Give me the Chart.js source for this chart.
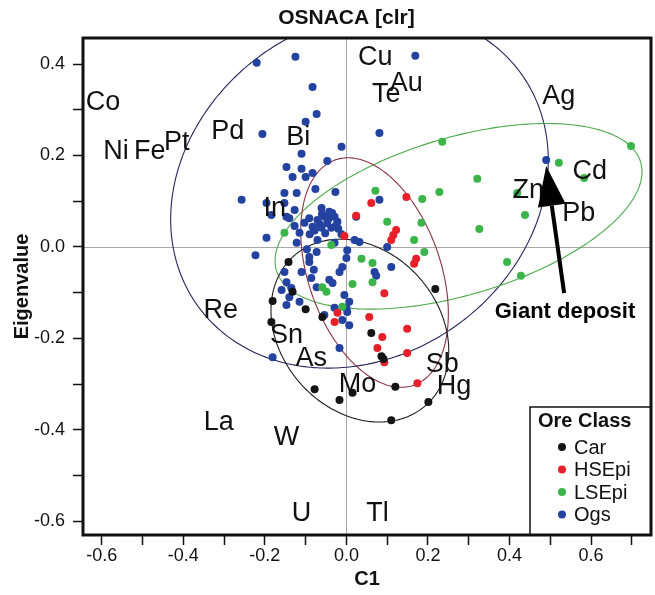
<!DOCTYPE html>
<html>
<head>
<meta charset="utf-8">
<script src="https://cdn.jsdelivr.net/npm/chart.js@4.4.1/dist/chart.umd.min.js"></script>
<style>
  html, body { margin: 0; padding: 0; background: #fff; }
</style>
</head>
<body>
<canvas id="chart" width="655" height="595"></canvas>
<script>
const classNames = ['Car', 'HSEpi', 'LSEpi', 'Ogs'];

const carX = [-0.142, -0.181, -0.184, -0.100, -0.059, -0.132, 0.061, 0.086, 0.091, 0.120, -0.017, 0.015, -0.078, 0.110, 0.201, 0.218];
const carY = [-0.033, -0.118, -0.164, -0.136, -0.153, -0.098, -0.188, -0.239, -0.245, -0.306, -0.335, -0.319, -0.311, -0.379, -0.339, -0.092];

const hsX = [0.061, 0.147, 0.122, 0.115, 0.110, -0.005, 0.171, 0.166, 0.024, 0.093, 0.056, -0.029, -0.022, 0.149, 0.088, 0.076, 0.149, 0.093, 0.174];
const hsY = [0.096, 0.109, 0.037, 0.026, 0.015, 0.024, -0.026, -0.037, 0.068, -0.101, -0.153, -0.164, -0.144, -0.179, -0.197, -0.221, -0.232, -0.252, -0.298];

const lsX = [0.235, 0.698, 0.521, 0.583, 0.321, 0.228, 0.186, 0.419, 0.438, 0.326, 0.184, 0.166, 0.191, 0.394, 0.428, 0.071, 0.100, 0.037, 0.064, 0.064, 0.015, -0.037, -0.059, -0.049, -0.152, -0.010];
const lsY = [0.230, 0.221, 0.184, 0.151, 0.149, 0.120, 0.105, 0.118, 0.070, 0.039, 0.053, 0.015, -0.011, -0.033, -0.063, 0.123, 0.055, -0.026, -0.035, -0.077, -0.081, 0.004, -0.088, -0.098, 0.031, -0.131];

const ogsX = [-0.220, -0.125, 0.169, -0.083, -0.073, -0.100, -0.206, 0.081, -0.012, -0.110,
  -0.047, -0.147, -0.110, -0.132, -0.100, -0.083, -0.076, -0.152, -0.122, -0.027,
  -0.257, -0.196, -0.152, 0.081, -0.184, -0.127, -0.061, -0.042, -0.091, -0.071,
  -0.054, -0.029, -0.022, -0.083, -0.061, -0.037, -0.103, 0.024, -0.140, -0.127,
  -0.196, -0.122, -0.071, -0.029, 0.002, -0.223, -0.091, -0.073, 0.000, -0.091,
  -0.152, -0.110, -0.147, -0.086, -0.017, -0.010, -0.073, -0.159, -0.135, -0.042,
  -0.034, -0.005, -0.115, -0.147, 0.007, 0.000, 0.002, -0.054, -0.010, 0.007,
  -0.017, -0.181, 0.020, 0.032, 0.100, 0.110, 0.069, 0.073, -0.029, 0.490,
  -0.147, -0.066, -0.047, -0.035, -0.052, -0.020, -0.078, -0.090, -0.044, -0.025,
  -0.060, -0.115, -0.097, -0.012, -0.080, -0.140];
const ogsY = [0.403, 0.416, 0.418, 0.350, 0.291, 0.274, 0.247, 0.249, 0.219, 0.204,
  0.188, 0.175, 0.171, 0.153, 0.153, 0.162, 0.127, 0.118, 0.118, 0.120,
  0.103, 0.096, 0.096, 0.103, 0.070, 0.081, 0.085, 0.077, 0.063, 0.059,
  0.066, 0.066, 0.055, 0.044, 0.042, 0.042, 0.053, 0.066, 0.063, 0.046,
  0.020, 0.009, 0.015, 0.009, -0.007, -0.018, -0.022, -0.011, -0.024, -0.033,
  -0.055, -0.055, -0.077, -0.068, -0.055, -0.044, -0.088, -0.094, -0.090, -0.072,
  -0.079, -0.105, -0.120, -0.127, -0.120, -0.133, -0.142, -0.149, -0.160, -0.171,
  -0.221, -0.241, 0.015, 0.011, 0.000, -0.044, -0.055, -0.063, -0.133, 0.190,
  0.066, 0.050, 0.052, 0.074, 0.030, 0.040, 0.036, 0.028, 0.061, 0.048,
  0.072, 0.031, -0.005, 0.028, -0.050, -0.110];

// confidence ellipses: centre, spread in x and y, correlation
const ellipseClass = ['Ogs', 'LSEpi', 'HSEpi', 'Car'];
const ellipseCx = [0.032, 0.275, 0.069, 0.033];
const ellipseCy = [0.125, 0.067, -0.056, -0.183];
const ellipseSx = [0.463, 0.450, 0.181, 0.218];
const ellipseSy = [0.390, 0.203, 0.251, 0.200];
const ellipseR = [0.166, 0.480, -0.360, -0.220];

// variable loadings (element labels)
const elementNames = ['Co', 'Ni', 'Fe', 'Pt', 'Pd', 'Bi', 'Cu', 'Au', 'Te', 'Ag', 'Cd', 'Zn', 'Pb', 'In',
  'Re', 'Sn', 'As', 'Mo', 'Sb', 'Hg', 'La', 'W', 'U', 'Tl'];
const elementX = [-0.597, -0.565, -0.482, -0.416, -0.291, -0.118, 0.071, 0.147, 0.098, 0.521, 0.597, 0.446, 0.570, -0.176,
  -0.308, -0.147, -0.086, 0.027, 0.235, 0.264, -0.313, -0.147, -0.110, 0.076];
const elementY = [0.315, 0.208, 0.208, 0.228, 0.252, 0.239, 0.414, 0.357, 0.333, 0.330, 0.164, 0.123, 0.072, 0.085,
  -0.140, -0.193, -0.243, -0.300, -0.258, -0.306, -0.385, -0.416, -0.584, -0.584];

// annotation
const arrowTip = [0.490, 0.177];
const arrowTail = [0.534, -0.101];
const arrowText = 'Giant deposit';
const arrowTextPos = [0.536, -0.142];

const xMin = -0.646, xMax = 0.747;
const yMin = -0.630, yMax = 0.457;
const tickStep = 0.1;

// ---- styles ----
const FONT = '"Liberation Sans", Arial, Helvetica, sans-serif';
const pointColors = { Car: '#141414', HSEpi: '#e8202a', LSEpi: '#3bb54a', Ogs: '#2442a0' };
const ellipseColors = { Ogs: '#26265e', LSEpi: '#4caa4c', HSEpi: '#8c3344', Car: '#1c1c1c' };

function toPoints(xs, ys) {
  return xs.map((v, i) => ({ x: v, y: ys[i] }));
}

const seriesX = { Car: carX, HSEpi: hsX, LSEpi: lsX, Ogs: ogsX };
const seriesY = { Car: carY, HSEpi: hsY, LSEpi: lsY, Ogs: ogsY };

const datasets = classNames.map(name => ({
  label: name,
  data: toPoints(seriesX[name], seriesY[name]),
  backgroundColor: pointColors[name],
  borderColor: pointColors[name],
  borderWidth: 0,
  pointRadius: 4,
  pointHoverRadius: 4
}));

function tickLabel(v) {
  const k = Math.round(v * 10);
  return k % 2 === 0 ? (k / 10).toFixed(1) : '';
}

const biplotPlugin = {
  id: 'biplot',
  beforeDatasetsDraw(chart) {
    const { ctx, chartArea: a, scales: { x, y } } = chart;
    ctx.save();
    ctx.beginPath();
    ctx.rect(a.left, a.top, a.right - a.left, a.bottom - a.top);
    ctx.clip();

    // zero lines
    const x0 = Math.round(x.getPixelForValue(0)) + 0.5;
    const y0 = Math.round(y.getPixelForValue(0)) + 0.5;
    ctx.strokeStyle = '#a8a8a8';
    ctx.lineWidth = 1;
    ctx.beginPath();
    ctx.moveTo(x0, a.top); ctx.lineTo(x0, a.bottom);
    ctx.moveTo(a.left, y0); ctx.lineTo(a.right, y0);
    ctx.stroke();

    // ellipses
    ellipseClass.forEach((name, i) => {
      const r = ellipseR[i], q = Math.sqrt(1 - r * r);
      ctx.beginPath();
      for (let k = 0; k <= 360; k++) {
        const t = k / 360 * Math.PI * 2;
        const ex = ellipseCx[i] + ellipseSx[i] * Math.cos(t);
        const ey = ellipseCy[i] + ellipseSy[i] * (r * Math.cos(t) + q * Math.sin(t));
        const px = x.getPixelForValue(ex), py = y.getPixelForValue(ey);
        if (k === 0) ctx.moveTo(px, py); else ctx.lineTo(px, py);
      }
      ctx.strokeStyle = ellipseColors[name];
      ctx.lineWidth = 1.1;
      ctx.stroke();
    });
    ctx.restore();
  },
  afterDatasetsDraw(chart) {
    const { ctx, chartArea: a, scales: { x, y } } = chart;
    ctx.save();

    // element labels
    ctx.fillStyle = '#111';
    ctx.font = '27px ' + FONT;
    ctx.textAlign = 'center';
    ctx.textBaseline = 'middle';
    elementNames.forEach((n, i) => {
      ctx.fillText(n, x.getPixelForValue(elementX[i]), y.getPixelForValue(elementY[i]));
    });

    // arrow
    const tx = x.getPixelForValue(arrowTip[0]), ty = y.getPixelForValue(arrowTip[1]);
    const sx = x.getPixelForValue(arrowTail[0]), sy = y.getPixelForValue(arrowTail[1]);
    const len = Math.hypot(sx - tx, sy - ty);
    const ux = (sx - tx) / len, uy = (sy - ty) / len;
    const headLen = 40, headHalf = 14;
    const bx = tx + ux * headLen, by = ty + uy * headLen;
    ctx.strokeStyle = '#000';
    ctx.lineWidth = 4;
    ctx.beginPath();
    ctx.moveTo(sx, sy);
    ctx.lineTo(bx, by);
    ctx.stroke();
    ctx.fillStyle = '#000';
    ctx.beginPath();
    ctx.moveTo(tx, ty);
    ctx.lineTo(bx - uy * headHalf, by + ux * headHalf);
    ctx.lineTo(bx + uy * headHalf, by - ux * headHalf);
    ctx.closePath();
    ctx.fill();

    ctx.font = 'bold 22px ' + FONT;
    ctx.fillText(arrowText, x.getPixelForValue(arrowTextPos[0]), y.getPixelForValue(arrowTextPos[1]));

    // legend box
    const lx = 530, ly = 407;
    ctx.fillStyle = '#fff';
    ctx.fillRect(lx, ly, a.right - lx, a.bottom - ly);
    ctx.strokeStyle = '#111';
    ctx.lineWidth = 1.5;
    ctx.strokeRect(lx, ly, a.right - lx, a.bottom - ly);
    ctx.fillStyle = '#111';
    ctx.textAlign = 'left';
    ctx.font = 'bold 20px ' + FONT;
    ctx.fillText('Ore Class', lx + 8, ly + 14);
    ctx.font = '20px ' + FONT;
    classNames.forEach((n, i) => {
      const iy = ly + 40 + i * 22.5;
      ctx.fillStyle = pointColors[n];
      ctx.beginPath();
      ctx.arc(lx + 32, iy, 4, 0, Math.PI * 2);
      ctx.fill();
      ctx.fillStyle = '#111';
      ctx.fillText(n, lx + 44, iy + 1);
    });

    // frame
    ctx.strokeStyle = '#111';
    ctx.lineWidth = 3;
    ctx.strokeRect(a.left, a.top, a.right - a.left, a.bottom - a.top);

    // title
    ctx.font = 'bold 21px ' + FONT;
    ctx.textAlign = 'center';
    ctx.fillText('OSNACA [clr]', x.getPixelForValue(0), 18);
    ctx.restore();
  }
};

new Chart(document.getElementById('chart'), {
  type: 'scatter',
  data: { datasets },
  options: {
    responsive: false,
    animation: false,
    events: [],
    layout: { padding: { top: 38, right: 3, left: 0, bottom: 0 } },
    plugins: {
      legend: { display: false },
      title: { display: false },
      tooltip: { enabled: false }
    },
    scales: {
      x: {
        type: 'linear',
        min: xMin,
        max: xMax,
        afterFit: s => { s.height = 60; },
        border: { display: false },
        grid: { drawOnChartArea: false, drawTicks: true, tickLength: 10, tickWidth: 1.5, tickColor: '#111' },
        ticks: {
          stepSize: tickStep, includeBounds: false, autoSkip: false, maxRotation: 0,
          padding: 0, color: '#111', font: { family: FONT, size: 18 },
          callback: tickLabel
        },
        title: { display: true, text: 'C1', color: '#111', font: { family: FONT, size: 20, weight: 'bold' }, padding: { top: 0, bottom: 4 } }
      },
      y: {
        type: 'linear',
        min: yMin,
        max: yMax,
        afterFit: s => { s.width = 83; },
        border: { display: false },
        grid: { drawOnChartArea: false, drawTicks: true, tickLength: 10, tickWidth: 1.5, tickColor: '#111' },
        ticks: {
          stepSize: tickStep, includeBounds: false, autoSkip: false,
          padding: 8, color: '#111', font: { family: FONT, size: 18 },
          callback: tickLabel
        },
        title: { display: true, text: 'Eigenvalue', color: '#111', font: { family: FONT, size: 20, weight: 'bold' }, padding: { top: 10, bottom: 0 } }
      }
    }
  },
  plugins: [biplotPlugin]
});
</script>
</body>
</html>
